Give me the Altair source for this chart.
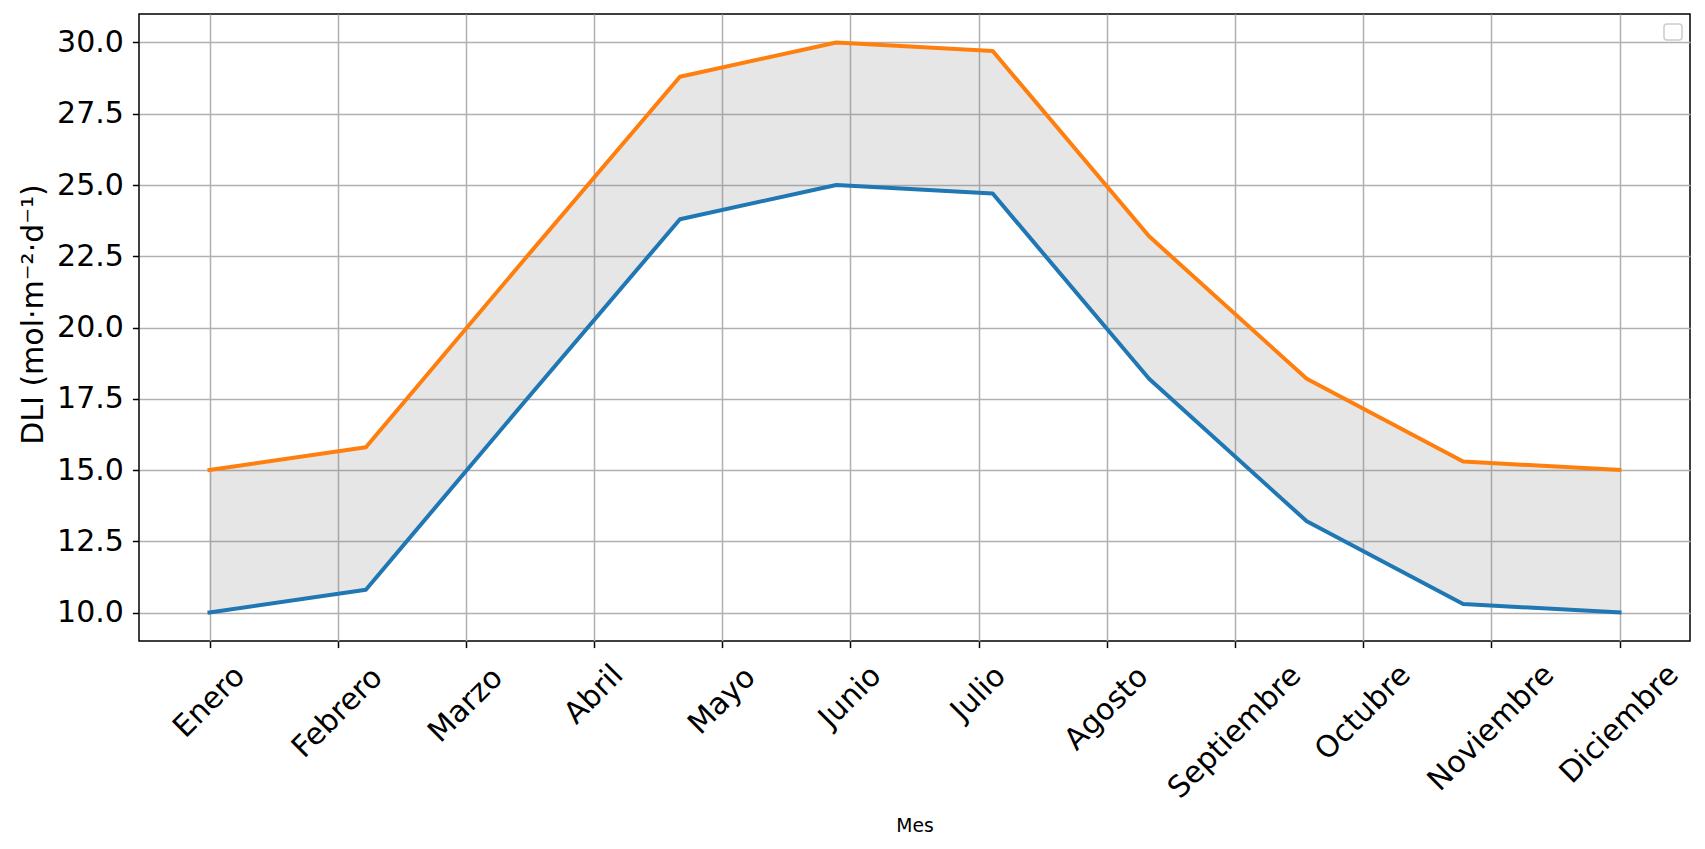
import altair as alt
import pandas as pd

# ---- data ----
meses = ["Enero", "Febrero", "Marzo", "Abril", "Mayo", "Junio", "Julio",
         "Agosto", "Septiembre", "Octubre", "Noviembre", "Diciembre"]
mes_pos = [0, 1, 2, 3, 4, 5, 6, 7, 8, 9, 10, 11]

x_pos = [0.0, 1.22, 2.44, 3.67, 4.89, 6.11, 7.33, 8.56, 9.78, 11.0]
dli_min = [10.0, 10.8, 17.3, 23.8, 25.0, 24.7, 18.2, 13.2, 10.3, 10.0]
dli_max = [15.0, 15.8, 22.3, 28.8, 30.0, 29.7, 23.2, 18.2, 15.3, 15.0]
y_ticks = [10.0, 12.5, 15.0, 17.5, 20.0, 22.5, 25.0, 27.5, 30.0]

df = pd.DataFrame({"x": x_pos, "low": dli_min, "high": dli_max})
lab = pd.DataFrame({"mes": meses, "pos": mes_pos})

FONT = "DejaVu Sans"
W, H = 1551, 627

xscale = alt.Scale(domain=[-0.55, 11.55], nice=False, zero=False)
yscale = alt.Scale(domain=[9, 31], nice=False, zero=False)

xaxis = alt.Axis(values=mes_pos, labels=False, grid=True, domain=False,
                 tickSize=6.6, tickWidth=1.5, tickColor="black",
                 gridColor="#b0b0b0", gridWidth=1.5,
                 title="Mes", titleFont=FONT, titleFontSize=18.75,
                 titleFontWeight="normal", titleColor="black",
                 titleBaseline="alphabetic", titleY=190.7, titleX=W / 2)
yaxis = alt.Axis(values=y_ticks, format=".1f", grid=True, domain=False,
                 tickSize=6.6, tickWidth=1.5, tickColor="black",
                 gridColor="#b0b0b0", gridWidth=1.5,
                 labelFont=FONT, labelFontSize=30, labelColor="black",
                 labelPadding=9,
                 title="DLI (mol·m⁻²·d⁻¹)", titleFont=FONT, titleFontSize=30,
                 titleFontWeight="normal", titleColor="black",
                 titleAngle=270, titleBaseline="alphabetic", titleAlign="center",
                 titleX=-97, titleY=300)

base = alt.Chart(df)

area = base.mark_area(color="gray", opacity=0.2).encode(
    x=alt.X("x:Q", scale=xscale, axis=xaxis),
    y=alt.Y("low:Q", scale=yscale, axis=yaxis),
    y2="high:Q",
)

line_low = base.mark_line(color="#1f77b4", strokeWidth=4,
                          strokeJoin="round", strokeCap="square").encode(
    x=alt.X("x:Q", scale=xscale), y=alt.Y("low:Q", scale=yscale))
line_high = base.mark_line(color="#ff7f0e", strokeWidth=4,
                           strokeJoin="round", strokeCap="square").encode(
    x=alt.X("x:Q", scale=xscale), y=alt.Y("high:Q", scale=yscale))

cnt = lambda cls: ("(length(datum.mes)-length(replace(datum.mes, regexp('" + cls + "','g'), '')))")
width_expr = ("30*(0.62*length(datum.mes) - 0.34*" + cnt("[ilJj]") +
              " - 0.22*" + cnt("[tr]") + " + 0.30*" + cnt("[mM]") + ")")

# offsets are applied in the rotated text frame: move straight down by 0.3535*w
labels = alt.Chart(lab).transform_calculate(w=width_expr).mark_text(
    font=FONT, fontSize=30, color="black", angle=315,
    align="center", baseline="middle",
    dx=alt.ExprRef("-0.25*datum.w"),
    dy=alt.ExprRef("0.25*datum.w"),
).encode(
    x=alt.X("pos:Q", scale=xscale),
    y=alt.value(H + 30.5),
    text="mes:N",
)

legend_box = alt.Chart(lab.head(1)).mark_rect(
    fill="white", stroke="#cccccc", strokeWidth=1.5, cornerRadius=3
).encode(x=alt.value(1525), x2=alt.value(1543), y=alt.value(10), y2=alt.value(26))

chart = alt.layer(area, line_low, line_high, labels, legend_box).properties(
    width=W, height=H,
    background="white",
    autosize=alt.AutoSizeParams(type="none"),
    padding={"left": 131, "top": 6, "right": 7, "bottom": 195},
).configure_view(stroke="black", strokeWidth=1.5)

chart.save("out.html", embed_options={"renderer": "svg", "actions": False})
